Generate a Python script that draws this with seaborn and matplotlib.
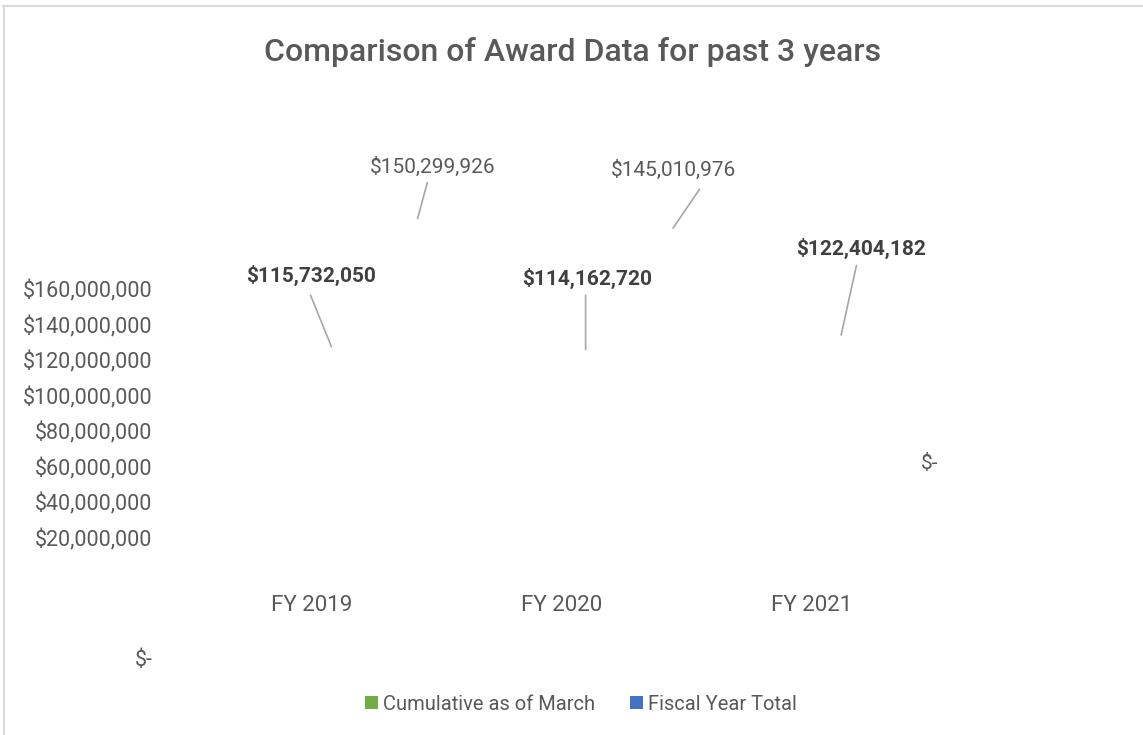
import pandas as pd
import matplotlib.pyplot as plt
import seaborn as sns
from matplotlib.patches import Patch
from matplotlib.lines import Line2D
from matplotlib.transforms import offset_copy

# Dados do gráfico
anos = ['FY 2019', 'FY 2020', 'FY 2021']
cumulativo_marco = [115732050, 114162720, 122404182]
total_ano_fiscal = [150299926, 145010976, 0]
series = ['Cumulative as of March', 'Fiscal Year Total']
cores = ['#70AD47', '#4472C4']
y_ticks = [0, 20e6, 40e6, 60e6, 80e6, 100e6, 120e6, 140e6, 160e6]

# Deslocamentos dos rótulos (em pontos) a partir do topo de cada barra
rotulo_off = {
    'Cumulative as of March': [(35, 66), (54, 66), (71, 77)],
    'Fiscal Year Total': [(51, 100), (44, 105), (49, 79)],
}
linha_off = {
    'Cumulative as of March': [((35, 52), (50, 15)), ((53, 54), (53, 15)), ((68, 65), (57, 15))],
    'Fiscal Year Total': [((47, 89), (40, 63)), ((63, 91), (44, 63)), None],
}

df = pd.DataFrame({
    'Ano': anos * 2,
    'Serie': [series[0]] * 3 + [series[1]] * 3,
    'Valor': cumulativo_marco + total_ano_fiscal,
})

sns.set_style('white')
plt.rcParams['font.family'] = ['Roboto', 'DejaVu Sans']

fig = plt.figure(figsize=(11.43, 7.35), dpi=100)
ax = fig.add_axes([187 / 1143, 162 / 735, 750 / 1143, 284 / 735])

sns.barplot(data=df, x='Ano', y='Valor', hue='Serie', palette=cores,
            width=0.8, legend=False, ax=ax)

# As barras não aparecem no gráfico original
for p in ax.patches:
    p.set_alpha(0)

ax.set_xlim(-0.5, 2.5)
ax.set_ylim(0, 160e6)
ax.set_yticks(y_ticks)
ax.set_yticklabels(['' if v == 0 else f'${v:,.0f}' for v in y_ticks])
ax.set_xlabel('')
ax.set_ylabel('')
ax.tick_params(axis='y', length=0, pad=25, labelsize=15.5, labelcolor='#595959')
ax.tick_params(axis='x', length=0, pad=16, labelsize=16, labelcolor='#595959')
sns.despine(ax=ax, left=True, bottom=True)

# O rótulo "$-" do eixo fica mais abaixo no original
ax.annotate('$-', xy=(0, 0), xycoords=ax.get_yaxis_transform(), xytext=(-25, -63),
            textcoords='offset points', ha='right', va='center', fontsize=15.5,
            color='#595959', annotation_clip=False)

# Rótulos de dados com linhas de chamada
for j, serie in enumerate(series):
    valores = cumulativo_marco if j == 0 else total_ano_fiscal
    for i, v in enumerate(valores):
        xb = i - 0.2 + 0.4 * j
        dx, dy = rotulo_off[serie][i]
        txt = '$-' if v == 0 else f'${v:,.0f}'
        negrito = j == 0
        ax.annotate(txt, xy=(xb, v), xytext=(dx, dy), textcoords='offset points',
                    ha='center', va='center', fontsize=15,
                    fontweight='bold' if negrito else 'normal',
                    color='#404040' if negrito else '#595959',
                    annotation_clip=False)
        lo = linha_off[serie][i]
        if lo is not None:
            (sx, sy), (ex, ey) = lo
            ax.annotate('', xy=(xb, v),
                        xycoords=offset_copy(ax.transData, fig=fig, x=ex, y=ey, units='points'),
                        xytext=(xb, v),
                        textcoords=offset_copy(ax.transData, fig=fig, x=sx, y=sy, units='points'),
                        arrowprops=dict(arrowstyle='-', color='#A6A6A6', lw=1.2,
                                        shrinkA=0, shrinkB=0),
                        annotation_clip=False)

fig.text(573 / 1143, 1 - 52 / 735, 'Comparison of Award Data for past 3 years',
         ha='center', va='center', fontsize=23, fontweight='medium', color='#595959')

handles = [Patch(facecolor=c, edgecolor='none') for c in cores]
fig.legend(handles, series, loc='center', bbox_to_anchor=(581 / 1143, 1 - 704 / 735),
           ncol=2, frameon=False, fontsize=14.5, labelcolor='#595959',
           handlelength=0.65, handleheight=0.65, handletextpad=0.25, columnspacing=1.75)

# Moldura cinza (apenas topo e esquerda visíveis)
fig.add_artist(Line2D([3 / 1143, 1], [1 - 6 / 735] * 2, transform=fig.transFigure,
                      color='#D9D9D9', lw=1.5))
fig.add_artist(Line2D([4 / 1143] * 2, [0, 1 - 6 / 735], transform=fig.transFigure,
                      color='#D9D9D9', lw=1.5))

fig.savefig('out.png', dpi=100)
